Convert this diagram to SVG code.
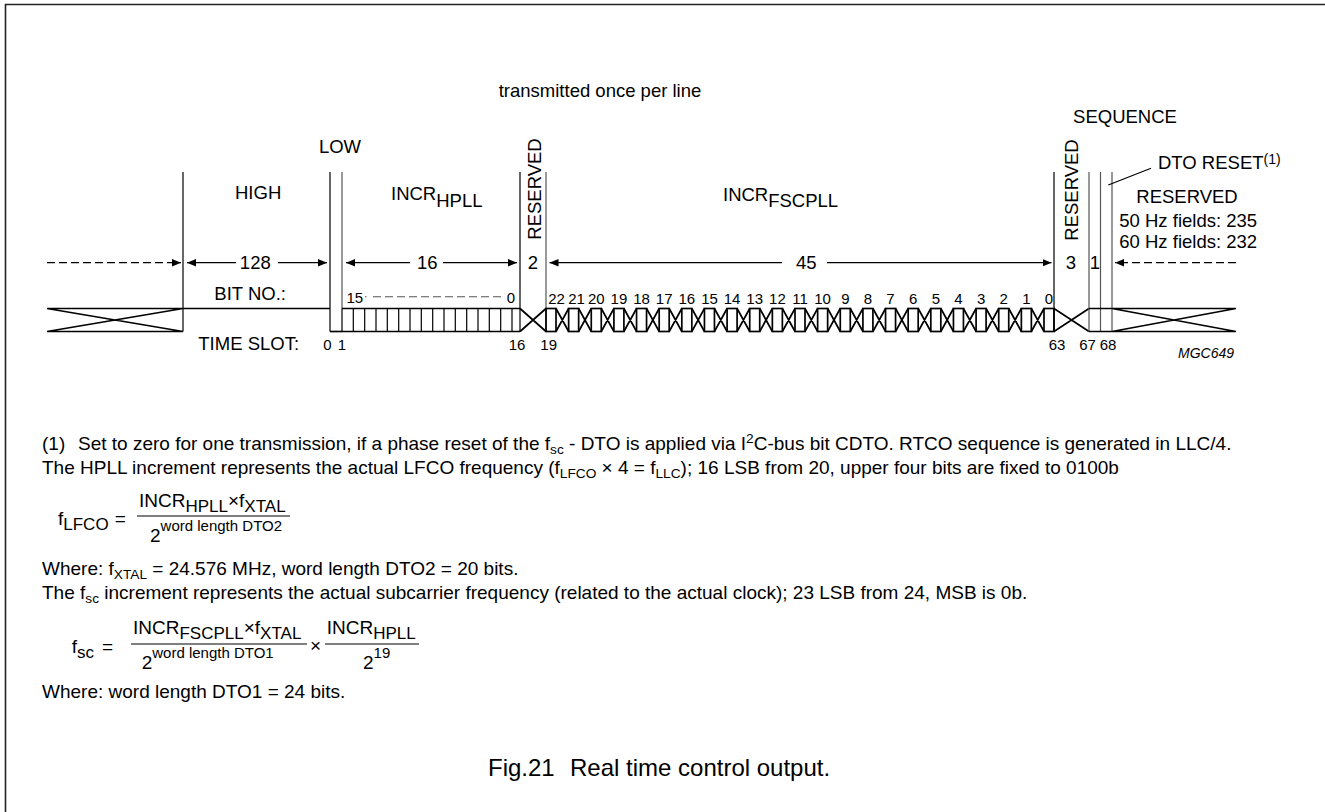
<svg xmlns="http://www.w3.org/2000/svg" width="1325" height="812" viewBox="0 0 1325 812">
<style>
text{font-family:"Liberation Sans",Arial,Helvetica,sans-serif;fill:#000}
.l{font-size:18.5px}
.n{font-size:15px}
.t{font-size:19px}
.s{font-size:13.7px}
.fs{font-size:17px}
.sp{font-size:15px}
.c{text-anchor:middle}
.k{stroke:#000;stroke-width:1.2;fill:none}
.g{stroke:#555;stroke-width:1.2;fill:none}
.w{stroke:#000;stroke-width:1.7;fill:none}
.d{stroke:#000;stroke-width:1.2;fill:none;stroke-dasharray:8 4}
.dg{stroke:#555;stroke-width:1.1;fill:none;stroke-dasharray:8 4}
.a{marker-end:url(#ah)}
.bar{stroke:#000;stroke-width:1.1}
</style>
<defs>
<marker id="ah" markerWidth="9" markerHeight="8" refX="9" refY="4" orient="auto" markerUnits="userSpaceOnUse">
<path d="M0,0.3 L9,4 L0,7.7 z" fill="#000"/>
</marker>
</defs>
<rect width="1325" height="812" fill="#fff"/>
<path d="M5.5,812 V4.5 H1325" stroke="#222" stroke-width="1.6" fill="none"/>

<text class="l c" x="600" y="97">transmitted once per line</text>

<g id="node-lead-in">
<path class="w" d="M47,308.5 H183 M47,331.5 H183 M47,308.5 L183,331.5 M47,331.5 L183,308.5"/>
<path class="k" d="M183,172 V331.5"/>
</g>

<g id="node-high">
<text class="l" x="235" y="199">HIGH</text>
<path class="w" d="M183,308.5 H330"/>
</g>

<g id="node-low">
<text class="l c" x="340" y="153">LOW</text>
<path class="k" d="M330,172 V331.5"/>
<path class="g" d="M342,172 V308.5"/>
<path class="w" d="M330,331.5 H342"/>
</g>

<g id="node-incr-hpll">
<text class="l" x="391" y="200">INCR<tspan dy="6.7">HPLL</tspan></text>
<path class="w" d="M342,308.5 H520 M342,331.5 H520"/>
<path class="k" d="M342,308.5V331.5 M353.3,308.5V331.5 M364.7,308.5V331.5 M376,308.5V331.5 M387.3,308.5V331.5 M398.7,308.5V331.5 M410,308.5V331.5 M421.3,308.5V331.5 M432.7,308.5V331.5 M444,308.5V331.5 M455.3,308.5V331.5 M466.7,308.5V331.5 M478,308.5V331.5 M489.3,308.5V331.5 M500.7,308.5V331.5 M512,308.5V331.5"/>
<text class="n" x="346.5" y="303">15</text>
<path class="dg" d="M365,296.7 H366.5 M373,296.7 H502"/>
<text class="n c" x="511" y="303">0</text>
</g>

<g id="node-reserved-2">
<path class="k" d="M520,172 V331.5"/>
<path class="g" d="M546,172 V331.5"/>
<path class="w" d="M520,308.5 L546,331.5 M520,331.5 L546,308.5"/>
<text class="l c" transform="translate(540.5,189) rotate(-90)">RESERVED</text>
<text class="l c" x="533" y="269">2</text>
</g>

<g id="node-incr-fscpll">
<text class="l" x="723" y="200.5">INCR<tspan dy="6.7">FSCPLL</tspan></text>
<g class="w">
<rect x="546" y="308.5" width="10" height="23"/><rect x="568.64" y="308.5" width="10" height="23"/><rect x="591.27" y="308.5" width="10" height="23"/><rect x="613.91" y="308.5" width="10" height="23"/><rect x="636.55" y="308.5" width="10" height="23"/><rect x="659.18" y="308.5" width="10" height="23"/><rect x="681.82" y="308.5" width="10" height="23"/><rect x="704.45" y="308.5" width="10" height="23"/><rect x="727.09" y="308.5" width="10" height="23"/><rect x="749.73" y="308.5" width="10" height="23"/><rect x="772.36" y="308.5" width="10" height="23"/><rect x="795" y="308.5" width="10" height="23"/><rect x="817.64" y="308.5" width="10" height="23"/><rect x="840.27" y="308.5" width="10" height="23"/><rect x="862.91" y="308.5" width="10" height="23"/><rect x="885.55" y="308.5" width="10" height="23"/><rect x="908.18" y="308.5" width="10" height="23"/><rect x="930.82" y="308.5" width="10" height="23"/><rect x="953.45" y="308.5" width="10" height="23"/><rect x="976.09" y="308.5" width="10" height="23"/><rect x="998.73" y="308.5" width="10" height="23"/><rect x="1021.36" y="308.5" width="10" height="23"/><rect x="1044" y="308.5" width="10" height="23"/>
</g>
<path class="w" d="M556,308.5L568.64,331.5M556,331.5L568.64,308.5 M578.64,308.5L591.27,331.5M578.64,331.5L591.27,308.5 M601.27,308.5L613.91,331.5M601.27,331.5L613.91,308.5 M623.91,308.5L636.55,331.5M623.91,331.5L636.55,308.5 M646.55,308.5L659.18,331.5M646.55,331.5L659.18,308.5 M669.18,308.5L681.82,331.5M669.18,331.5L681.82,308.5 M691.82,308.5L704.45,331.5M691.82,331.5L704.45,308.5 M714.45,308.5L727.09,331.5M714.45,331.5L727.09,308.5 M737.09,308.5L749.73,331.5M737.09,331.5L749.73,308.5 M759.73,308.5L772.36,331.5M759.73,331.5L772.36,308.5 M782.36,308.5L795,331.5M782.36,331.5L795,308.5 M805,308.5L817.64,331.5M805,331.5L817.64,308.5 M827.64,308.5L840.27,331.5M827.64,331.5L840.27,308.5 M850.27,308.5L862.91,331.5M850.27,331.5L862.91,308.5 M872.91,308.5L885.55,331.5M872.91,331.5L885.55,308.5 M895.55,308.5L908.18,331.5M895.55,331.5L908.18,308.5 M918.18,308.5L930.82,331.5M918.18,331.5L930.82,308.5 M940.82,308.5L953.45,331.5M940.82,331.5L953.45,308.5 M963.45,308.5L976.09,331.5M963.45,331.5L976.09,308.5 M986.09,308.5L998.73,331.5M986.09,331.5L998.73,308.5 M1008.73,308.5L1021.36,331.5M1008.73,331.5L1021.36,308.5 M1031.36,308.5L1044,331.5M1031.36,331.5L1044,308.5"/>
<g class="n c">
<text x="556.5" y="303.5">22</text><text x="576.5" y="303.5">21</text><text x="596.3" y="303.5">20</text><text x="618.9" y="303.5">19</text><text x="641.5" y="303.5">18</text><text x="664.2" y="303.5">17</text><text x="686.8" y="303.5">16</text><text x="709.5" y="303.5">15</text><text x="732.1" y="303.5">14</text><text x="754.7" y="303.5">13</text><text x="777.4" y="303.5">12</text><text x="800" y="303.5">11</text><text x="822.6" y="303.5">10</text><text x="845.3" y="303.5">9</text><text x="867.9" y="303.5">8</text><text x="890.5" y="303.5">7</text><text x="913.2" y="303.5">6</text><text x="935.8" y="303.5">5</text><text x="958.5" y="303.5">4</text><text x="981.1" y="303.5">3</text><text x="1003.7" y="303.5">2</text><text x="1026.4" y="303.5">1</text><text x="1049" y="303.5">0</text>
</g>
</g>

<g id="node-reserved-3">
<path class="k" d="M1054,172 V331.5"/>
<path class="w" d="M1054,308.5 L1089,331.5 M1054,331.5 L1089,308.5"/>
<text class="l c" transform="translate(1078,190) rotate(-90)">RESERVED</text>
<text class="l c" x="1071" y="268.5">3</text>
<text class="l c" x="1125" y="122.7">SEQUENCE</text>
</g>

<g id="node-dto-reset">
<path class="g" d="M1089,172 V331.5 M1100.5,172 V331.5 M1112,172 V331.5"/>
<path class="w" d="M1089,308.5 H1112 M1089,331.5 H1112"/>
<text class="l c" x="1095" y="268.5">1</text>
<text class="l" x="1158" y="169.3">DTO RESET<tspan font-size="14" dy="-5.5">(1)</tspan></text>
<path class="k" stroke-width="1" d="M1151,168.3 L1108.3,185"/>
</g>

<g id="node-reserved-tail">
<path class="w" d="M1112,308.5 H1236 M1112,331.5 H1236 M1112,308.5 L1236,331.5 M1112,331.5 L1236,308.5"/>
<text class="l c" x="1187" y="203.3">RESERVED</text>
<text class="l" x="1119.3" y="226.7">50 Hz fields: 235</text>
<text class="l" x="1119.3" y="248.3">60 Hz fields: 232</text>
</g>

<g id="connectors" stroke="#000" stroke-width="1.2" fill="none">
<line class="a" x1="47" y1="262.7" x2="181" y2="262.7" stroke-dasharray="8 4"/>
<line class="a" x1="236" y1="262.7" x2="187" y2="262.7"/>
<line class="a" x1="278" y1="262.7" x2="327" y2="262.7"/>
<line class="a" x1="410" y1="262.7" x2="346" y2="262.7"/>
<line class="a" x1="443" y1="262.7" x2="517" y2="262.7"/>
<line class="a" x1="782" y1="262.7" x2="549.5" y2="262.7"/>
<line class="a" x1="827" y1="262.7" x2="1051.5" y2="262.7"/>
<line class="a" x1="1236" y1="262.7" x2="1115" y2="262.7" stroke-dasharray="8 4"/>
</g>

<g id="length-labels">
<text class="l c" x="255.3" y="269">128</text>
<text class="l c" x="427.3" y="269">16</text>
<text class="l c" x="806.3" y="269">45</text>
</g>

<g id="axis-labels">
<text class="l" x="214.3" y="300">BIT NO.:</text>
<text class="l" x="198.3" y="350">TIME SLOT:</text>
<g class="n c">
<text x="327.5" y="349.5">0</text><text x="342" y="349.5">1</text><text x="517" y="349.5">16</text><text x="548.7" y="349.5">19</text><text x="1057" y="349.5">63</text><text x="1087.5" y="349.5">67</text><text x="1108" y="349.5">68</text>
</g>
<text x="1234" y="358.3" font-size="14" font-style="italic" text-anchor="end">MGC649</text>
</g>

<g id="notes" class="t">
<text x="42" y="450">(1)</text>
<text x="78" y="450">Set to zero for one transmission, if a phase reset of the f<tspan class="s" dy="4">sc</tspan><tspan dy="-4"> - DTO is applied via I</tspan><tspan class="s" dy="-7">2</tspan><tspan dy="7">C-bus bit CDTO. RTCO sequence is generated in LLC/4.</tspan></text>
<text x="42" y="474">The HPLL increment represents the actual LFCO frequency (f<tspan class="s" dy="4">LFCO</tspan><tspan dy="-4"> × 4 = f</tspan><tspan class="s" dy="4">LLC</tspan><tspan dy="-4">); 16 LSB from 20, upper four bits are fixed to 0100b</tspan></text>

<g id="formula-lfco">
<text x="58" y="525">f<tspan class="fs" dy="5">LFCO</tspan><tspan dy="-5" dx="6">=</tspan></text>
<text x="139" y="507">INCR<tspan class="fs" dy="5">HPLL</tspan><tspan dy="-5">×f</tspan><tspan class="fs" dy="5">XTAL</tspan></text>
<line class="bar" x1="137" y1="516" x2="290" y2="516"/>
<text x="150" y="542">2<tspan class="sp" dy="-11">word length DTO2</tspan></text>
</g>

<text x="42" y="575">Where: f<tspan class="s" dy="4">XTAL</tspan><tspan dy="-4"> = 24.576 MHz, word length DTO2 = 20 bits.</tspan></text>
<text x="42" y="599">The f<tspan class="s" dy="4">sc</tspan><tspan dy="-4"> increment represents the actual subcarrier frequency (related to the actual clock); 23 LSB from 24, MSB is 0b.</tspan></text>

<g id="formula-fsc">
<text x="71.7" y="653">f<tspan class="fs" dy="5">sc</tspan><tspan dy="-5" dx="8">=</tspan></text>
<text x="133" y="634">INCR<tspan class="fs" dy="5">FSCPLL</tspan><tspan dy="-5">×f</tspan><tspan class="fs" dy="5">XTAL</tspan></text>
<line class="bar" x1="131" y1="644" x2="307" y2="644"/>
<text x="141.7" y="669">2<tspan class="sp" dy="-11">word length DTO1</tspan></text>
<text x="310" y="652">×</text>
<text x="326.7" y="634">INCR<tspan class="fs" dy="5">HPLL</tspan></text>
<line class="bar" x1="325" y1="644" x2="419" y2="644"/>
<text x="363" y="669">2<tspan class="sp" dy="-11">19</tspan></text>
</g>

<text x="42" y="698">Where: word length DTO1 = 24 bits.</text>
</g>

<text x="488" y="776" font-size="24">Fig.21<tspan x="570">Real time control output.</tspan></text>
</svg>
